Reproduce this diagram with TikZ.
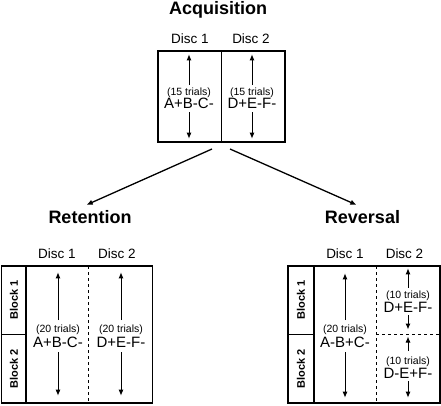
\documentclass[tikz,border=0pt]{standalone}
\usepackage{fontspec}
\setmainfont{Liberation Sans}
\usetikzlibrary{arrows.meta}

\tikzset{
  title/.style={font=\fontsize{18}{20}\selectfont\bfseries, anchor=base},
  disc/.style={font=\fontsize{13.5}{15}\selectfont, anchor=base},
  trials/.style={font=\fontsize{10.5}{12}\selectfont, anchor=base, inner sep=1pt},
  combo/.style={font=\fontsize{15}{17}\selectfont, anchor=base, inner sep=1pt},
  blocklabel/.style={font=\fontsize{11}{13}\selectfont\bfseries, rotate=90},
  box/.style={draw, line width=1.4pt, inner sep=0pt},
  arr/.style={line width=1pt, -{Latex[length=6pt,width=5pt]}},
  bigarr/.style={line width=1.3pt, -{Latex[length=6pt,width=5.5pt]}},
}

\begin{document}
\begin{tikzpicture}[x=1pt, y=-1pt]
        \useasboundingbox (0,0) rectangle (441,405);

        % acquisition
        \node[title] (acqtitle) at (218,14) {Acquisition};
        \node[disc] (acqdisc1) at (190,43) {Disc 1};
        \node[disc] (acqdisc2) at (251,43) {Disc 2};
        \node[box, minimum width=127pt, minimum height=91pt] (acq) at (221.5,96.5) {};
        \draw[line width=1.4pt] (acq.north) -- (acq.south);

        \node[trials] (acqt1) at (189,95) {(15 trials)};
        \node[combo] (acqc1) at (189,108) {A+B-C-};
        \node[trials] (acqt2) at (252,95) {(15 trials)};
        \node[combo] (acqc2) at (252,108) {D+E-F-};
        \draw[arr, shorten <=1pt, shorten >=4pt] (acqt1.north) -- (acqt1.north |- acq.north);
        \draw[arr, shorten <=3pt, shorten >=4pt] (acqc1.south) -- (acqc1.south |- acq.south);
        \draw[arr, shorten <=1pt, shorten >=4pt] (acqt2.north) -- (acqt2.north |- acq.north);
        \draw[arr, shorten <=3pt, shorten >=4pt] (acqc2.south) -- (acqc2.south |- acq.south);

        % retention
        \node[title] (rettitle) at (90,223) {Retention};
        \node[disc] (retdisc1) at (57,258) {Disc 1};
        \node[disc] (retdisc2) at (117,258) {Disc 2};
        \node[box, minimum width=151pt, minimum height=137pt] (ret) at (77,334.5) {};
        \draw[line width=1.4pt] (26,266) -- (26,403);
        \draw[line width=1.4pt] (1.5,334.5) -- (26,334.5);
        \draw[dashed, line width=0.8pt] (88,266) -- (88,403);
        \node[blocklabel] (retblock1) at (14,300) {Block 1};
        \node[blocklabel] (retblock2) at (14,368.5) {Block 2};

        \node[trials] (rett1) at (58,332) {(20 trials)};
        \node[combo] (retc1) at (58,347) {A+B-C-};
        \node[trials] (rett2) at (121,332) {(20 trials)};
        \node[combo] (retc2) at (121,347) {D+E-F-};
        \draw[arr, shorten <=3pt, shorten >=7pt] (rett1.north) -- (rett1.north |- ret.north);
        \draw[arr, shorten <=4pt, shorten >=8pt] (retc1.south) -- (retc1.south |- ret.south);
        \draw[arr, shorten <=3pt, shorten >=7pt] (rett2.north) -- (rett2.north |- ret.north);
        \draw[arr, shorten <=4pt, shorten >=8pt] (retc2.south) -- (retc2.south |- ret.south);

        % reversal
        \node[title] (revtitle) at (362.5,223) {Reversal};
        \node[disc] (revdisc1) at (345,258) {Disc 1};
        \node[disc] (revdisc2) at (404.5,258) {Disc 2};
        \node[box, minimum width=152pt, minimum height=137pt] (rev) at (364,334.5) {};
        \draw[line width=1.4pt] (314,266) -- (314,403);
        \draw[line width=1.4pt] (288,334.5) -- (314,334.5);
        \draw[dashed, line width=0.8pt] (376,266) -- (376,403);
        \coordinate (revmid) at (376,334.5);
        \draw[dashed, line width=0.8pt] (revmid) -- (rev.east |- revmid);
        \node[blocklabel] (revblock1) at (301,300) {Block 1};
        \node[blocklabel] (revblock2) at (301,368.5) {Block 2};

        \node[trials] (revt1) at (345,332) {(20 trials)};
        \node[combo] (revc1) at (345,347) {A-B+C-};
        \draw[arr, shorten <=3pt, shorten >=8pt] (revt1.north) -- (revt1.north |- rev.north);
        \draw[arr, shorten <=4pt, shorten >=6pt] (revc1.south) -- (revc1.south |- rev.south);

        \node[trials] (revt2) at (408,298.5) {(10 trials)};
        \node[combo] (revc2) at (408,312) {D+E-F-};
        \node[trials] (revt3) at (408,364.5) {(10 trials)};
        \node[combo] (revc3) at (408,378) {D-E+F-};
        \draw[arr, shorten <=2pt, shorten >=3pt] (revt2.north) -- (revt2.north |- rev.north);
        \draw[arr, shorten <=2pt, shorten >=5pt] (revc2.south) -- (revc2.south |- revmid);
        \draw[arr, shorten <=5pt, shorten >=2pt] (revt3.north) -- (revt3.north |- revmid);
        \draw[arr, shorten <=2pt, shorten >=6pt] (revc3.south) -- (revc3.south |- rev.south);

        % split arrows
        \coordinate (splitleft) at (212,149);
        \coordinate (splitright) at (230,149);
        \draw[bigarr, shorten >=4pt] (splitleft) -- ([xshift=-7pt]rettitle.north);
        \draw[bigarr, shorten >=4pt] (splitright) -- ([xshift=-2.5pt]revtitle.north);
    \end{tikzpicture}
\end{document}
